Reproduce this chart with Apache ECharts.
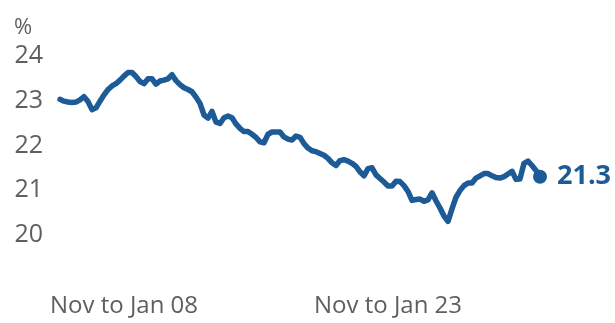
<!DOCTYPE html>
<html>
<head>
<meta charset="utf-8">
<script src="https://cdn.jsdelivr.net/npm/echarts@6/dist/echarts.min.js"></script>
<style>
	html, body { margin: 0; padding: 0; background: #fff; }
	#chart { width: 615px; height: 323px; }
</style>
</head>
<body>
<div id="chart"></div>
<script>
// 读图得到的数值 (rolling three-month periods)
const rateValues = [
	23.03, 22.99, 22.97, 22.96, 22.97, 23.02, 23.09, 22.98, 22.80, 22.84,
	22.99, 23.13, 23.25, 23.33, 23.38, 23.46, 23.55, 23.63, 23.63, 23.54,
	23.43, 23.38, 23.49, 23.49, 23.37, 23.44, 23.46, 23.49, 23.58, 23.45,
	23.36, 23.29, 23.25, 23.20, 23.08, 22.94, 22.68, 22.61, 22.76, 22.52,
	22.49, 22.62, 22.66, 22.62, 22.48, 22.38, 22.31, 22.31, 22.25, 22.18,
	22.08, 22.06, 22.25, 22.30, 22.30, 22.30, 22.19, 22.14, 22.12, 22.21,
	22.18, 22.04, 21.94, 21.88, 21.86, 21.82, 21.78, 21.71, 21.61, 21.55,
	21.66, 21.68, 21.65, 21.60, 21.53, 21.41, 21.32, 21.48, 21.50, 21.34,
	21.26, 21.18, 21.09, 21.09, 21.20, 21.19, 21.10, 20.97, 20.77, 20.79,
	20.80, 20.75, 20.78, 20.94, 20.76, 20.60, 20.42, 20.30, 20.58, 20.84,
	20.99, 21.10, 21.16, 21.16, 21.27, 21.32, 21.37, 21.37, 21.32, 21.28,
	21.27, 21.30, 21.36, 21.42, 21.24, 21.25, 21.60, 21.65, 21.55, 21.44,
	21.30
];
// x轴刻度 (index -> label)
const tickIndex = [16, 82];
const tickLabels = ['Nov to Jan 08', 'Nov to Jan 23'];
const yTicks = [19, 20, 21, 22, 23, 24];
const endLabel = '21.3';

const categories = rateValues.map((v, i) => {
	const k = tickIndex.indexOf(i);
	return k >= 0 ? tickLabels[k] : String(i);
});
const lastIdx = rateValues.length - 1;

const chart = echarts.init(document.getElementById('chart'), null, { renderer: 'canvas' });
const fontFamily = '"Open Sans", "Noto Sans", sans-serif';
const grey = '#5f5f5f';
const blue = '#1d5b97';

chart.setOption({
	animation: false,
	textStyle: { fontFamily: fontFamily },
	title: {
		text: '%',
		left: 9,
		top: 12,
		textStyle: { fontFamily: fontFamily, fontSize: 22, fontWeight: 'normal', color: grey }
	},
	grid: { left: 60, right: 75, top: 56, bottom: 43.5, containLabel: false },
	xAxis: {
		type: 'category',
		data: categories,
		boundaryGap: false,
		axisLine: { show: false },
		axisTick: { show: false },
		splitLine: { show: false },
		axisLabel: {
			interval: (i) => tickIndex.indexOf(i) >= 0,
			margin: 15,
			fontSize: 24,
			color: grey,
			fontFamily: fontFamily
		}
	},
	yAxis: {
		type: 'value',
		min: yTicks[0],
		max: yTicks[yTicks.length - 1],
		interval: 1,
		axisLine: { show: false },
		axisTick: { show: false },
		splitLine: { show: false },
		axisLabel: {
			margin: 17,
			fontSize: 25,
			color: grey,
			fontFamily: fontFamily,
			formatter: (v) => (v === yTicks[0] ? '' : String(v))
		}
	},
	series: [
		{
			type: 'line',
			data: rateValues,
			showSymbol: false,
			smooth: false,
			lineStyle: { color: blue, width: 5.5, join: 'round', cap: 'round' }
		},
		{
			type: 'scatter',
			data: [[lastIdx, rateValues[lastIdx]]],
			symbol: 'circle',
			symbolSize: 14,
			itemStyle: { color: blue, opacity: 1 },
			label: {
				show: true,
				position: 'right',
				distance: 10,
				formatter: endLabel,
				fontSize: 27,
				fontWeight: 'bold',
				color: blue,
				fontFamily: fontFamily
			}
		}
	]
});
</script>
</body>
</html>
